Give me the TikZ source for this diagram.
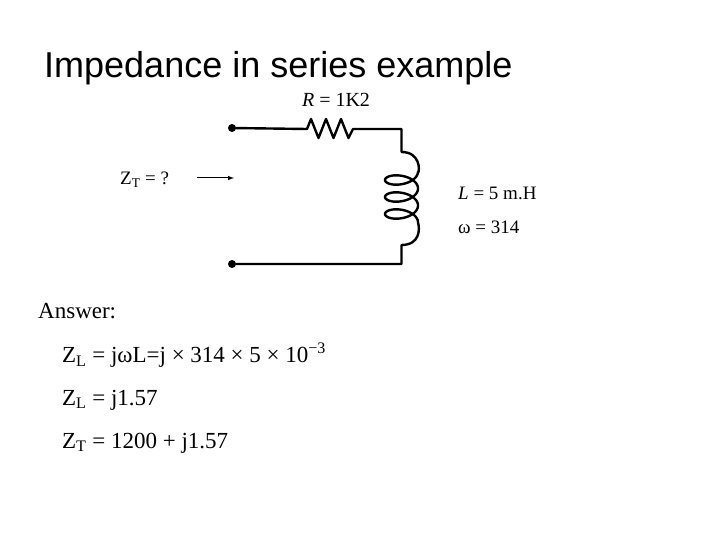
\documentclass[tikz,border=0pt]{standalone}
\usepackage{fontspec}
\setmainfont{Liberation Serif}
\newfontfamily\titlefont{Liberation Sans}
\begin{document}
\begin{tikzpicture}[x=1pt,y=-1pt,
  wire/.style={line width=2.4pt,line join=round},
  dotn/.style={circle,fill=black,inner sep=0pt,minimum size=8pt},
  txt/.style={font=\fontsize{19}{22}\selectfont,inner sep=0pt,anchor=west},
  big/.style={font=\fontsize{23}{26}\selectfont,inner sep=0pt,anchor=west}]
\useasboundingbox (0,0) rectangle (720,540);
\node[anchor=west,inner sep=0pt,font=\titlefont\fontsize{36}{40}\selectfont] (title) at (44,68) {Impedance in series example};
\node[dotn] (a) at (232,128) {};
\node[dotn] (b) at (232,264) {};
\coordinate (r1) at (307,129);
\coordinate (r2) at (353,129);
\coordinate (c1) at (401.5,129);
\coordinate (c2) at (401.5,152);
\coordinate (c3) at (401.5,245);
\coordinate (c4) at (401.5,264);
\draw[wire] (a.center) -- (r1) -- (311,119) -- (318.5,138) -- (326,119) -- (333.5,138) -- (341,119) -- (348.5,138) -- (r2) -- (c1) -- (c2)
  .. controls (420,152) and (420,170) .. (418,173)
  plot[domain=0:1080,samples=220,smooth,variable=\t] ({401.5+16.5*cos(\t)},{171.5+\t/360*17+8.5*sin(\t)})
  .. controls (420,229) and (420,245) .. (c3) -- (c4) -- (b.center);
\node[txt,font=\fontsize{20}{22}\selectfont,anchor=center] (rl) at (336,100) {\textit{R} = 1K2};
\node[txt] (zt) at (120,180) {Z\textsubscript{T} = ?};
\coordinate (ar1) at (197,178);
\coordinate (ar2) at (234,178);
\draw[line width=1pt,-latex] (ar1) -- (ar2);
\node[txt] (ll) at (458,193) {\textit{L} = 5 m.H};
\node[txt] (ww) at (458,227) {ω = 314};
\node[big] (ans) at (38,311) {Answer:};
\node[big] (e1) at (62,355) {Z\textsubscript{L} = jωL=j × 314 × 5 × 10\textsuperscript{−3}};
\node[big] (e2) at (62,400) {Z\textsubscript{L} = j1.57};
\node[big] (e3) at (62,443) {Z\textsubscript{T} = 1200 + j1.57};
\end{tikzpicture}
\end{document}
